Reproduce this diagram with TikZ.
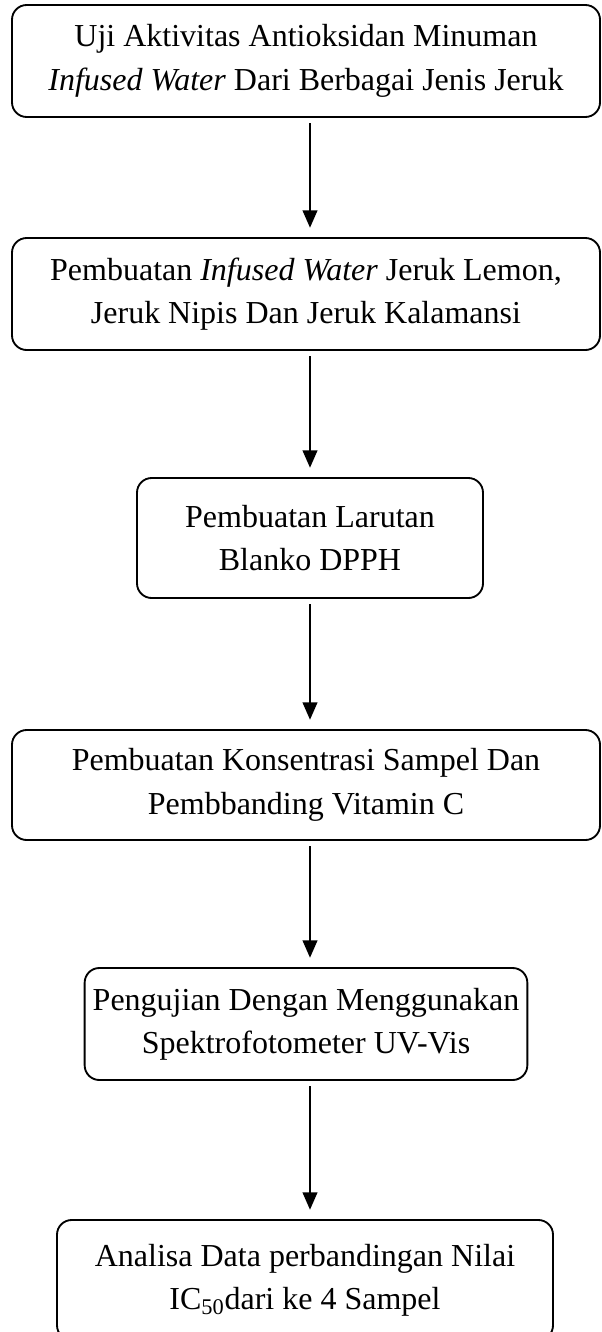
\documentclass[tikz,border=0pt]{standalone}
\usepackage{fontspec}
\setmainfont{Liberation Serif}
\usetikzlibrary{arrows.meta}

\tikzset{every picture/.style={line width=0.75pt}}

\begin{document}
\begin{tikzpicture}[
            x=0.75pt,
            y=0.75pt,
            yscale=-1,
            xscale=1,
            every node/.style={text=black},
            box/.style={draw=black, rounded corners=11pt, line width=1.4pt, align=center, inner sep=0pt, font=\fontsize{24}{32.5}\selectfont},
            flow/.style={draw=black, line width=1.4pt, shorten <=4pt, shorten >=7pt, -{Triangle[length=13pt,width=11pt]}}
        ]
            \useasboundingbox (0,0) rectangle (601,1332);
            \clip (0,0) rectangle (601,1332);

            \coordinate (ax) at (310,0);

            \draw (306,61) node [box, minimum width=441pt, minimum height=84pt] (uji) {Uji Aktivitas Antioksidan Minuman\\\textit{Infused Water} Dari Berbagai Jenis Jeruk};
            \draw (306,294) node [box, minimum width=441pt, minimum height=84pt] (infus) {Pembuatan \textit{Infused Water} Jeruk Lemon,\\Jeruk Nipis Dan Jeruk Kalamansi};
            \draw (310,538) node [box, minimum width=259.5pt, minimum height=90pt] (blanko) {Pembuatan Larutan\\Blanko DPPH};
            \draw (306,785) node [box, minimum width=441pt, minimum height=82.5pt] (konsen) {Pembuatan Konsentrasi Sampel Dan\\Pembbanding Vitamin C};
            \draw (306,1024) node [box, minimum width=332pt, minimum height=84pt] (uji2) {Pengujian Dengan Menggunakan\\Spektrofotometer UV-Vis};
            \draw (305,1280) node [box, minimum width=372pt, minimum height=90pt] (analisa) {Analisa Data perbandingan Nilai\\IC\textsubscript{50}dari ke 4 Sampel};

            \draw [flow] (uji.south -| ax) -- (infus.north -| ax);
            \draw [flow] (infus.south -| ax) -- (blanko.north -| ax);
            \draw [flow] (blanko.south -| ax) -- (konsen.north -| ax);
            \draw [flow] (konsen.south -| ax) -- (uji2.north -| ax);
            \draw [flow] (uji2.south -| ax) -- (analisa.north -| ax);
        \end{tikzpicture}
\end{document}
